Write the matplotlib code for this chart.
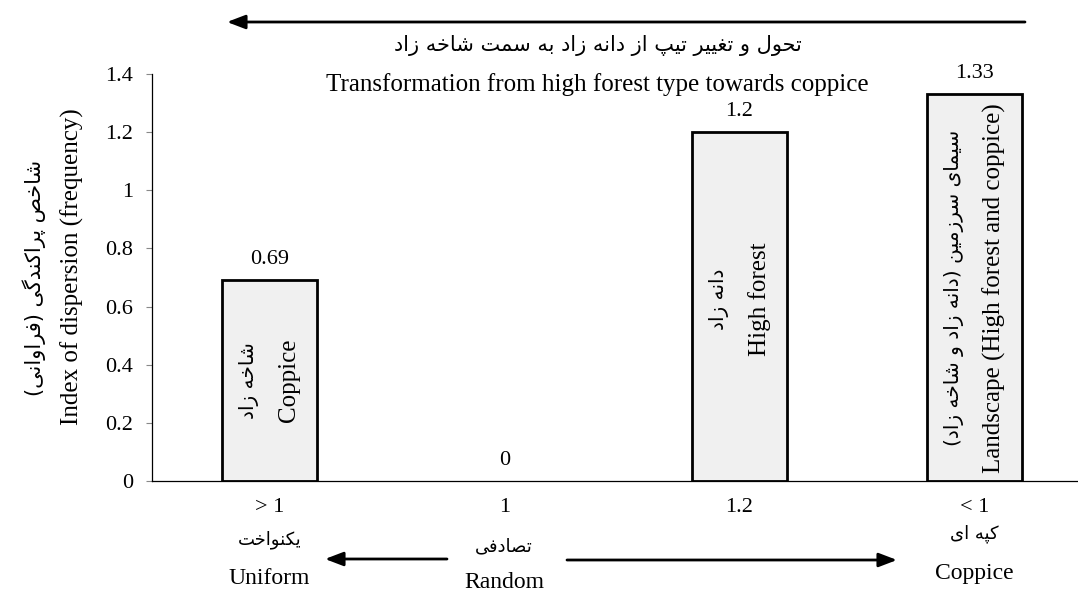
import matplotlib
matplotlib.use("Agg")
import matplotlib.pyplot as plt
import matplotlib.transforms as mtransforms

# ---------------- data ----------------
categories_num = ["> 1", "1", "1.2", "< 1"]
categories_fa = ["یکنواخت", "تصادفی", "", "کپه ای"]
categories_en = ["Uniform", "Random", "", "Coppice"]
values = [0.69, 0, 1.2, 1.33]
value_labels = ["0.69", "0", "1.2", "1.33"]
bar_text_fa = ["شاخه زاد", "", "دانه زاد", "سیمای سرزمین (دانه زاد و شاخه زاد)"]
bar_text_en = ["Coppice", "", "High forest", "Landscape (High forest and coppice)"]
y_ticks = [0, 0.2, 0.4, 0.6, 0.8, 1.0, 1.2, 1.4]
y_tick_labels = ["0", "0.2", "0.4", "0.6", "0.8", "1", "1.2", "1.4"]
title_fa = "تحول و تغییر تیپ از دانه زاد به سمت شاخه زاد"
title_en = "Transformation from high forest type towards coppice"
ylabel_fa = "شاخص پراکندگی (فراوانی)"
ylabel_en = "Index of dispersion (frequency)"

# ---------------- simple Arabic-script shaping (contextual forms + RTL order) ----------------
FORMS = {
    '\u0627': ('\uFE8D', '\uFE8E', None, None),      # alef
    '\u0628': ('\uFE8F', '\uFE90', '\uFE91', '\uFE92'),  # beh
    '\u067E': ('\uFB56', '\uFB57', '\uFB58', '\uFB59'),  # peh
    '\u062A': ('\uFE95', '\uFE96', '\uFE97', '\uFE98'),  # teh
    '\u062D': ('\uFEA1', '\uFEA2', '\uFEA3', '\uFEA4'),  # hah
    '\u062E': ('\uFEA5', '\uFEA6', '\uFEA7', '\uFEA8'),  # khah
    '\u062F': ('\uFEA9', '\uFEAA', None, None),      # dal
    '\u0631': ('\uFEAD', '\uFEAE', None, None),      # reh
    '\u0632': ('\uFEAF', '\uFEB0', None, None),      # zain
    '\u0633': ('\uFEB1', '\uFEB2', '\uFEB3', '\uFEB4'),  # seen
    '\u0634': ('\uFEB5', '\uFEB6', '\uFEB7', '\uFEB8'),  # sheen
    '\u0635': ('\uFEB9', '\uFEBA', '\uFEBB', '\uFEBC'),  # sad
    '\u063A': ('\uFECD', '\uFECE', '\uFECF', '\uFED0'),  # ghain
    '\u0641': ('\uFED1', '\uFED2', '\uFED3', '\uFED4'),  # feh
    '\u0644': ('\uFEDD', '\uFEDE', '\uFEDF', '\uFEE0'),  # lam
    '\u0645': ('\uFEE1', '\uFEE2', '\uFEE3', '\uFEE4'),  # meem
    '\u0646': ('\uFEE5', '\uFEE6', '\uFEE7', '\uFEE8'),  # noon
    '\u0647': ('\uFEE9', '\uFEEA', '\uFEEB', '\uFEEC'),  # heh
    '\u0648': ('\uFEED', '\uFEEE', None, None),      # waw
    '\u06A9': ('\uFB8E', '\uFB8F', '\uFB90', '\uFB91'),  # keheh
    '\u06AF': ('\uFB92', '\uFB93', '\uFB94', '\uFB95'),  # gaf
    '\u06CC': ('\uFBFC', '\uFBFD', '\uFBFE', '\uFBFF'),  # farsi yeh
}


def shape(s):
    def joins(c):
        return c in FORMS

    def dual(c):
        return c in FORMS and FORMS[c][2] is not None

    out = []
    for i, c in enumerate(s):
        if c not in FORMS:
            out.append(c)
            continue
        prev = s[i - 1] if i > 0 else None
        nxt = s[i + 1] if i + 1 < len(s) else None
        jp = prev is not None and dual(prev)
        jn = nxt is not None and joins(nxt) and dual(c)
        iso, fin, ini, med = FORMS[c]
        if jp and jn:
            out.append(med)
        elif jp:
            out.append(fin)
        elif jn:
            out.append(ini)
        else:
            out.append(iso)
    mirror = {'(': ')', ')': '('}
    return ''.join(mirror.get(ch, ch) for ch in reversed(out))


# ---------------- figure ----------------
W, H = 1078, 592
fig = plt.figure(figsize=(W / 100, H / 100), dpi=100)
LAT = ['Liberation Serif', 'DejaVu Serif']
FA = ['DejaVu Sans']

ax_left, ax_bottom = 151.7 / W, (H - 481) / H
ax_w, ax_h = 4 * 235 / W, (481 - 74) / H
ax = fig.add_axes([ax_left, ax_bottom, ax_w, ax_h])

x = list(range(len(values)))
edge_w = [2.0 if v > 0 else 0 for v in values]
ax.bar(x, values, width=0.404, color='#f0f0f0', edgecolor='black', linewidth=edge_w, zorder=2)
ax.set_xlim(-0.5, 3.5)
ax.set_ylim(0, 1.4)
ax.set_yticks(y_ticks)
ax.set_yticklabels(y_tick_labels, fontfamily=LAT, fontsize=16)
ax.tick_params(axis='y', direction='out', length=4.5, width=0.8, color='#888888', pad=9)
ax.set_xticks([])
for s in ['top', 'right']:
    ax.spines[s].set_visible(False)
ax.spines['left'].set_linewidth(0.9)
ax.spines['bottom'].set_linewidth(0.9)
ax.patch.set_alpha(0)

# value labels
for xi, v, lab in zip(x, values, value_labels):
    ax.annotate(lab, (xi, v), xytext=(0, 15), textcoords='offset points',
                ha='center', va='center', fontfamily=LAT, fontsize=16)

# texts inside bars
dx = 20 / 235
for xi, v, tfa, ten in zip(x, values, bar_text_fa, bar_text_en):
    if ten:
        yc = v / 2 + (0.025 if xi == 2 else 0)
        ax.text(xi - dx, yc, shape(tfa), rotation=90, ha='center', va='center',
                fontfamily=FA, fontsize=14.5)
        ax.text(xi + dx, yc, ten, rotation=90, ha='center', va='center',
                fontfamily=LAT, fontsize=18)

# bottom category labels
blend = mtransforms.blended_transform_factory(ax.transData, fig.transFigure)
fa_y = [540, 546, 540, 534]
en_y = [578, 582, 578, 574]
for xi, n, fa, en, yf, ye in zip(x, categories_num, categories_fa, categories_en, fa_y, en_y):
    ax.text(xi, 1 - 507 / H, n, transform=blend, ha='center', va='center',
            fontfamily=LAT, fontsize=16, clip_on=False)
    if fa:
        ax.text(xi, 1 - yf / H, shape(fa), transform=blend, ha='center', va='center',
                fontfamily=FA, fontsize=13, clip_on=False)
    if en:
        ax.text(xi, 1 - ye / H, en, transform=blend, ha='center', va='center',
                fontfamily=LAT, fontsize=17, clip_on=False)

# y labels
fig.text(72 / W, 1 - 267 / H, ylabel_en, rotation=90, ha='center', va='center',
         fontfamily=LAT, fontsize=18)
fig.text(34 / W, 1 - 278 / H, shape(ylabel_fa), rotation=90, ha='center', va='center',
         fontfamily=FA, fontsize=15)

# titles
fig.text(598 / W, 1 - 45 / H, shape(title_fa), ha='center', va='center',
         fontfamily=FA, fontsize=15)
fig.text(597 / W, 1 - 85 / H, title_en, ha='center', va='center',
         fontfamily=LAT, fontsize=18)


def arrow(x0, y0, x1, y1):
    fig.add_artist(matplotlib.patches.FancyArrowPatch(
        (x0 / W, 1 - y0 / H), (x1 / W, 1 - y1 / H), transform=fig.transFigure,
        arrowstyle='-|>,head_length=1.1,head_width=0.42', mutation_scale=10,
        linewidth=2.0, color='black', shrinkA=0, shrinkB=0))


arrow(1025, 22, 227, 22)
arrow(447, 559, 325, 559)
arrow(567, 560, 897, 560)

fig.savefig('out.png', dpi=100)
